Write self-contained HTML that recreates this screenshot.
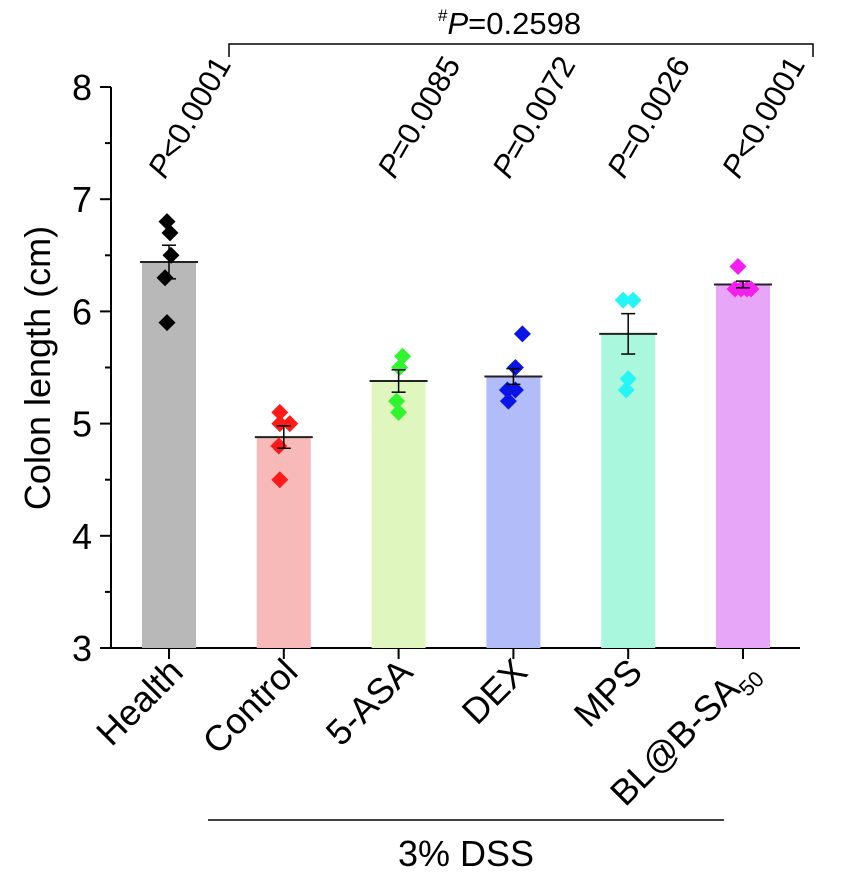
<!DOCTYPE html>
<html><head><meta charset="utf-8"><style>
body{margin:0;background:#fff}
svg{font-family:"Liberation Sans",Arial,sans-serif}
</style></head><body>
<svg id="chart" width="856" height="876" xmlns="http://www.w3.org/2000/svg"></svg>
<script>
const categories=["Health","Control","5-ASA","DEX","MPS","BL@B-SA"];
const means=[6.44,4.88,5.38,5.42,5.80,6.24];
const sems=[0.15,0.10,0.10,0.07,0.18,0.03];
const points=[[6.8,6.7,6.5,6.3,5.9],[5.1,5.0,5.0,4.8,4.5],[5.6,5.5,5.2,5.1],[5.8,5.5,5.3,5.3,5.2],[6.1,6.1,5.4,5.3],[6.4,6.2,6.2,6.2,6.2]];
const pLabels=["<0.0001",null,"=0.0085","=0.0072","=0.0026","<0.0001"];
const yTicks=[3,4,5,6,7,8];
const fills=["#b8b8b8","#f8b9b9","#dff7bf","#b1bcf8","#a9f8de","#e8a6f8"];
const dots=["#000","#ff1a1a","#2ef52e","#0a14e6","#26f5f5","#f51ef0"];
const jitter=[[-2,1,2,-4,-2],[-4,-4,6,-5,-4],[4,1,-2,0],[9,2,-6,2,-5],[-5,5,0,-2],[-5,-8,-2,4,8]];
const NS="http://www.w3.org/2000/svg";
const svg=document.getElementById("chart");
const y=v=>648-(v-3)*112.2;
const x=i=>169+i*114.8;
function mk(t,a,p){const e=document.createElementNS(NS,t);for(const k in a)e.setAttribute(k,a[k]);(p||svg).appendChild(e);return e;}
let ax=mk("line",{x1:111,y1:87,x2:111,y2:649,stroke:"#000","stroke-width":2});


let xa=mk("line",{x1:110,y1:648,x2:800,y2:648,stroke:"#000","stroke-width":2});


yTicks.forEach(t=>{
  mk("line",{x1:100,y1:y(t),x2:111,y2:y(t),stroke:"#000","stroke-width":2});
  if(t<8)mk("line",{x1:105,y1:y(t+0.5),x2:111,y2:y(t+0.5),stroke:"#000","stroke-width":2});
  const l=mk("text",{x:92,y:y(t)+13,"font-size":36,"text-anchor":"end"});l.textContent=t;
  
  
});
const yt=mk("text",{x:0,y:0,"font-size":36,"text-anchor":"middle",transform:"translate(50,368) rotate(-90)"});
yt.textContent="Colon length (cm)";


categories.forEach((c,i)=>{
  const cx=x(i);
  const b=mk("rect",{x:cx-27,y:y(means[i]),width:54,height:648-y(means[i]),fill:fills[i]});
  
  
  mk("line",{x1:cx-29,y1:y(means[i]),x2:cx+29,y2:y(means[i]),stroke:"#222","stroke-width":2});
  points[i].forEach((v,j)=>{
    const py=y(v),px=cx+(jitter[i][j]||0);
    const d=mk("polygon",{points:`${px},${py-8.5} ${px+8.5},${py} ${px},${py+8.5} ${px-8.5},${py}`,fill:dots[i]});
    
    
  });
  const t=y(means[i]+sems[i]),bo=y(means[i]-sems[i]);
  mk("line",{x1:cx,y1:t,x2:cx,y2:bo,stroke:"#000","stroke-width":1.5});
  mk("line",{x1:cx-7,y1:t,x2:cx+7,y2:t,stroke:"#000","stroke-width":1.5});
  mk("line",{x1:cx-7,y1:bo,x2:cx+7,y2:bo,stroke:"#000","stroke-width":1.5});
  mk("line",{x1:cx,y1:648,x2:cx,y2:659,stroke:"#000","stroke-width":2});
  const lab=mk("text",{x:0,y:0,"font-size":36,"text-anchor":"end",transform:`translate(${cx+16},${674}) rotate(-45)`});
  if(i===5){lab.innerHTML='BL@B-SA<tspan font-size="22" dy="9">50</tspan>';}else lab.textContent=c;
  
  
  if(pLabels[i]){
    const p=mk("text",{x:0,y:0,"font-size":31,transform:`translate(${cx-4},${180}) rotate(-60)`});
    p.innerHTML='<tspan font-style="italic">P</tspan>'+pLabels[i].replace('<','&lt;');
    
    
  }
});
</script>
<svg style="position:absolute;left:0;top:0" width="856" height="876">
<path d="M229,57 V44 H813 V57" fill="none" stroke="#000" stroke-width="1.5"/>
<text x="438" y="34" font-family="Liberation Sans,Arial,sans-serif" font-size="31"><tspan font-size="17" dy="-13">#</tspan><tspan font-style="italic" dy="13">P</tspan>=0.2598</text>
<line x1="208" y1="820" x2="724" y2="820" stroke="#000" stroke-width="1.5"/>
<text x="466" y="866" text-anchor="middle" font-family="Liberation Sans,Arial,sans-serif" font-size="36">3% DSS</text>
</svg>
</body></html>
